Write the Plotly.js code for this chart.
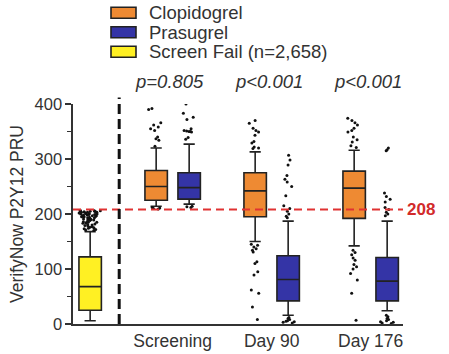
<!DOCTYPE html>
<html><head><meta charset="utf-8">
<script src="https://cdn.plot.ly/plotly-3.0.1.min.js"></script>
<style>html,body{margin:0;padding:0;background:#fff}#chart{width:449px;height:354px}</style>
</head><body><div id="chart"></div>
<script>
// ---------- data ----------
const seriesNames = ['Clopidogrel', 'Prasugrel', 'Screen Fail (n=2,658)'];
const timepoints = ['Screening', 'Day 90', 'Day 176'];
const pValues = ['p=0.805', 'p<0.001', 'p<0.001'];
const threshold = 208;
const yTitle = 'VerifyNow P2Y12 PRU';

// Screen fail box: [lowerfence, q1, median, q3, upperfence]
const sfLower = 6, sfQ1 = 25, sfMedian = 68, sfQ3 = 122, sfUpper = 168;
const sfOutliers = [207,206,206,205,205,205,204,204,203,203,203,202,202,201,201,200,200,200,199,199,198,198,197,197,196,196,195,195,194,193,193,192,191,190,190,189,188,187,186,185,185,184,183,182,181,180,179,178,177,176,175,174,173,172,171,170];

// Clopidogrel per timepoint
const clopLower = [214, 150, 142];
const clopQ1 = [225, 195, 192];
const clopMedian = [250, 242, 247];
const clopQ3 = [279, 275, 278];
const clopUpper = [320, 313, 316];
const clopOutliers = [
  [392, 390, 366, 362, 358, 355, 352, 340, 337, 334, 323, 212, 211, 210, 209],
  [370, 365, 356, 352, 349, 343, 332, 329, 322, 320, 319, 145, 143, 140, 137, 134, 131, 113, 110, 95, 89, 62, 56, 31, 8],
  [374, 370, 366, 362, 356, 352, 349, 340, 335, 331, 324, 321, 134, 130, 126, 120, 116, 108, 104, 100, 92, 80, 56, 7]
];

// Prasugrel per timepoint
const prasLower = [218, 16, 24];
const prasQ1 = [227, 42, 42];
const prasMedian = [248, 81, 78];
const prasQ3 = [275, 124, 121];
const prasUpper = [327, 187, 187];
const prasOutliers = [
  [400, 383, 376, 372, 355, 352, 351, 350, 350, 349, 339, 336, 214, 213, 212],
  [307, 298, 289, 270, 263, 258, 250, 233, 215, 210, 205, 200, 196, 193, 12, 10, 8, 6, 5, 4, 3, 2],
  [320, 317, 315, 238, 232, 227, 222, 212, 208, 203, 200, 197, 16, 13, 10, 8, 6, 4, 3, 2, 1]
];

// ---------- layout / style ----------
const colors = ['#EE8A33', '#3434A6', '#FFF023'];
const sfPos = 0, clopPos = [2, 5, 8], prasPos = [3, 6, 9];
const boxW = 0.68;
const dividerX = 0.88;
const FONT = 'Liberation Sans, Arial, Helvetica, sans-serif';
const M = {l: 73, r: 46, t: 104, b: 30};
const W = 449 - M.l - M.r, H = 354 - M.t - M.b;
const pxX = p => (p - M.l) / W;
const pxY = p => (M.t + H - p) / H;

const traces = [];
function statBox(pos, lo, q1, med, q3, hi, color) {
  traces.push({
    type: 'box', x: [pos], q1: [q1], median: [med], q3: [q3],
    lowerfence: [lo], upperfence: [hi], width: boxW,
    fillcolor: color, line: {color: '#222', width: 1.6},
    whiskerwidth: 0.5, boxpoints: false, showlegend: false, hoverinfo: 'skip'
  });
}
function outlierPts(pos, vals, jit) {
  traces.push({
    type: 'box', x0: pos, y: vals, width: boxW,
    boxpoints: 'all', jitter: jit, pointpos: 0,
    marker: {color: '#111', size: 3},
    fillcolor: 'rgba(0,0,0,0)', line: {color: 'rgba(0,0,0,0)', width: 0},
    whiskerwidth: 0, showlegend: false, hoverinfo: 'skip'
  });
}
statBox(sfPos, sfLower, sfQ1, sfMedian, sfQ3, sfUpper, colors[2]);
outlierPts(sfPos, sfOutliers, 1.0);
for (let i = 0; i < timepoints.length; i++) {
  statBox(clopPos[i], clopLower[i], clopQ1[i], clopMedian[i], clopQ3[i], clopUpper[i], colors[0]);
  statBox(prasPos[i], prasLower[i], prasQ1[i], prasMedian[i], prasQ3[i], prasUpper[i], colors[1]);
  outlierPts(clopPos[i], clopOutliers[i], 0.7);
  outlierPts(prasPos[i], prasOutliers[i], 0.7);
}

const shapes = [
  {type: 'line', xref: 'paper', x0: 0, x1: 1, yref: 'y', y0: threshold, y1: threshold,
   line: {color: '#E03232', width: 2, dash: '8px,5px'}, layer: 'above'},
  {type: 'line', xref: 'x', x0: dividerX, x1: dividerX, yref: 'paper', y0: 0, y1: 1.03,
   line: {color: '#111', width: 3, dash: '10px,5px'}, layer: 'above'}
];
const annotations = [];
const legendY = [12.8, 32.3, 51.7];
for (let i = 0; i < seriesNames.length; i++) {
  shapes.push({type: 'rect', xref: 'paper', yref: 'paper',
    x0: pxX(111), x1: pxX(136), y0: pxY(legendY[i] + 5.5), y1: pxY(legendY[i] - 5.5),
    fillcolor: colors[i], line: {color: '#222', width: 1.6}});
  annotations.push({xref: 'paper', yref: 'paper', x: pxX(147), y: pxY(legendY[i]),
    xanchor: 'left', yanchor: 'middle', showarrow: false, text: seriesNames[i],
    font: {family: FONT, size: 18.5, color: '#333'}});
}
for (let i = 0; i < timepoints.length; i++) {
  annotations.push({xref: 'x', yref: 'paper', x: (clopPos[i] + prasPos[i]) / 2, y: pxY(82),
    xshift: -3, yanchor: 'middle', showarrow: false, text: '<i>' + pValues[i] + '</i>',
    font: {family: FONT, size: 18.5, color: '#333'}});
}
annotations.push({xref: 'paper', yref: 'y', x: pxX(405), y: threshold, xanchor: 'left',
  yanchor: 'middle', showarrow: false, text: '<b>' + threshold + '</b>',
  font: {family: FONT, size: 17, color: '#D22B2B'}});

const layout = {
  width: 449, height: 354, margin: M,
  paper_bgcolor: '#fff', plot_bgcolor: '#fff',
  boxmode: 'overlay', showlegend: false,
  font: {family: FONT, size: 16, color: '#333'},
  xaxis: {range: [-0.52, 9.48], showgrid: false, zeroline: false, showline: true,
    linecolor: '#333', linewidth: 1.6, ticks: '',
    tickvals: clopPos.map((p, i) => (p + prasPos[i]) / 2), ticktext: timepoints,
    tickfont: {family: FONT, size: 17.5, color: '#333'}},
  yaxis: {range: [0, 400], showgrid: false, zeroline: false, showline: true,
    linecolor: '#333', linewidth: 1.6, ticks: 'outside', ticklen: 6, tickwidth: 1.6,
    tickcolor: '#333', dtick: 100, tick0: 0,
    minor: {dtick: 50, ticks: 'outside', ticklen: 4, tickwidth: 1.4, tickcolor: '#333', showgrid: false},
    tickfont: {family: FONT, size: 16.5, color: '#333'},
    title: {text: yTitle, font: {family: FONT, size: 17.5, color: '#333'}, standoff: 6}},
  shapes: shapes, annotations: annotations
};
Plotly.newPlot('chart', traces, layout, {displayModeBar: false, staticPlot: true});
</script></body></html>
